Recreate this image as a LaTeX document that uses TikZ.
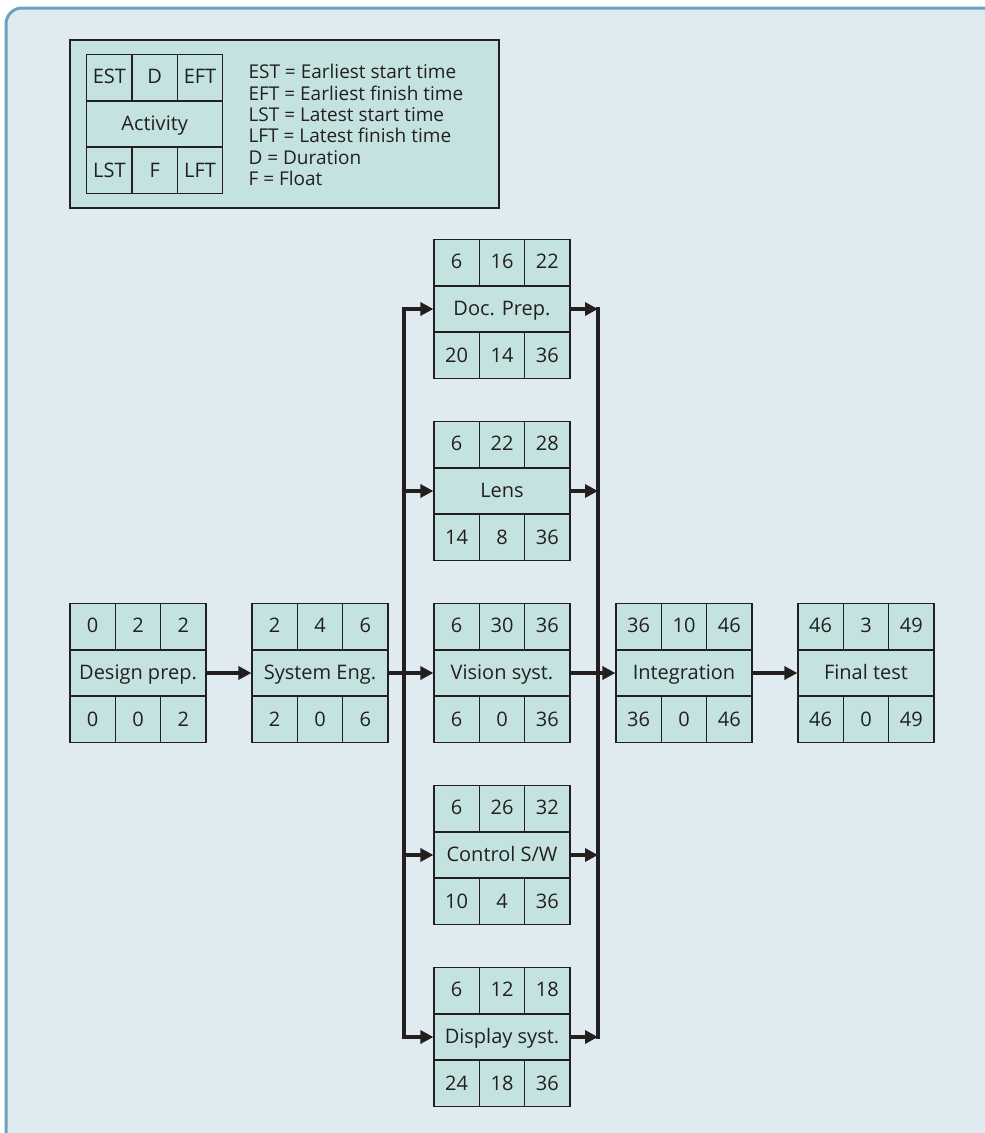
\documentclass[tikz,border=0pt]{standalone}
\usepackage{fontspec}
\setmainfont{Open Sans}
\usetikzlibrary{arrows.meta,positioning}
\definecolor{ink}{HTML}{231F20}
\definecolor{cellfill}{HTML}{C4E3E0}
\definecolor{panelfill}{HTML}{E0EBF1}
\definecolor{panelline}{HTML}{6DA2BE}
\begin{document}
\begin{tikzpicture}[
  x=1pt, y=-1pt,
  font=\fontsize{20}{23}\selectfont,
  text=ink,
  cell/.style={draw=ink, fill=cellfill, line width=1.2pt, minimum width=45.33pt, minimum height=45.33pt, inner sep=0pt, text height=14pt, text depth=1pt},
  mid/.style={cell, minimum width=136pt},
  arr/.style={-{Triangle[length=13pt, width=13pt]}, line width=3.2pt, ink},
  bus/.style={line width=3.2pt, ink, line cap=rect},
]
\useasboundingbox (0,0) rectangle (985,1133);
\clip (0,0) rectangle (985,1133);
% panel
\draw[panelline, fill=panelfill, line width=3pt, rounded corners=16pt] (6,8) rectangle (1040,1180);
% key
\node[draw=ink, fill=cellfill, line width=1.2pt, minimum width=429pt, minimum height=168pt, inner sep=0pt] (key) at (284.5,124) {};
\node[anchor=west, align=left, font=\fontsize{19}{21.3}\selectfont] (keytext) at (245,125) {EST = Earliest start time\\EFT = Earliest finish time\\LST = Latest start time\\LFT = Latest finish time\\D = Duration\\F = Float};
% activities
\foreach \n/\x/\y/\a/\b/\c/\t/\d/\e/\f in {
  act/154.7/124/EST/D/EFT/Activity/LST/F/LFT,
  design/138/673/0/2/2/Design prep./0/0/2,
  syseng/320/673/2/4/6/System Eng./2/0/6,
  doc/502/309/6/16/22/Doc. Prep./20/14/36,
  lens/502/491/6/22/28/Lens/14/8/36,
  vision/502/673/6/30/36/Vision syst./6/0/36,
  control/502/855/6/26/32/{Control S/W}/10/4/36,
  display/502/1037/6/12/18/Display syst./24/18/36,
  integ/684/673/36/10/46/Integration/36/0/46,
  final/866/673/46/3/49/Final test/46/0/49}{
  \node[mid] (\n) at (\x,\y) {\t};
  \node[cell, anchor=south west] (\n-est) at (\n.north west) {\a};
  \node[cell, anchor=south] (\n-d) at (\n.north) {\b};
  \node[cell, anchor=south east] (\n-eft) at (\n.north east) {\c};
  \node[cell, anchor=north west] (\n-lst) at (\n.south west) {\d};
  \node[cell, anchor=north] (\n-f) at (\n.south) {\e};
  \node[cell, anchor=north east] (\n-lft) at (\n.south east) {\f};
}
% buses
\coordinate (busL) at (404,673);
\coordinate (busR) at (598,673);
\draw[bus] (busL |- doc) -- (busL |- display);
\draw[bus] (busR |- doc) -- (busR |- display);
\foreach \n in {doc,lens,control,display} {
  \draw[arr] (busL |- \n) -- (\n.west);
  \draw[arr] (\n.east) -- (busR |- \n);
}
% main chain
\draw[arr] (design) -- (syseng);
\draw[arr] (syseng) -- (vision);
\draw[arr] (vision) -- (integ);
\draw[arr] (integ) -- (final);
\end{tikzpicture}
\end{document}
